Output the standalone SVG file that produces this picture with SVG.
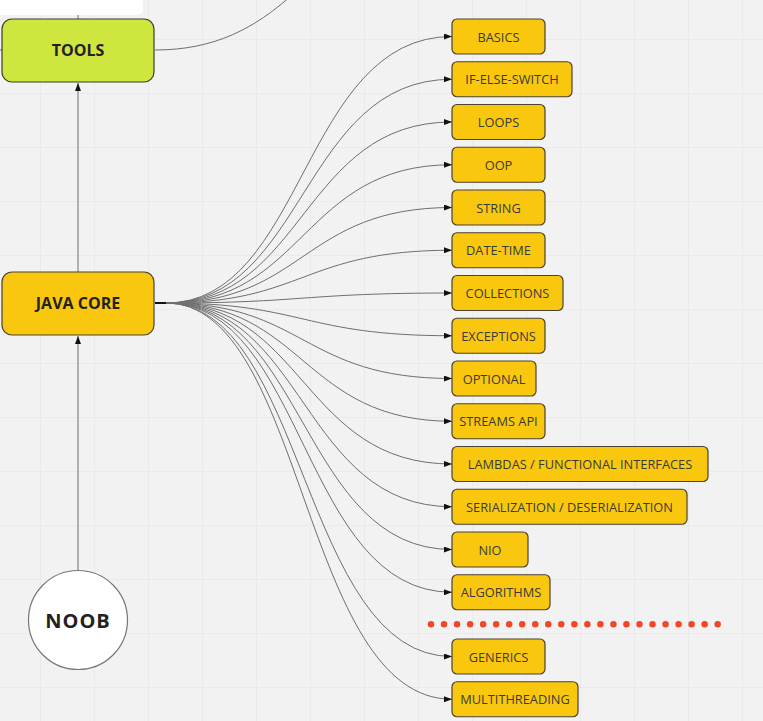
<svg xmlns="http://www.w3.org/2000/svg" width="763" height="721" viewBox="0 0 763 721">
  <defs>
    <pattern id="grid" x="40" y="39" width="54" height="54" patternUnits="userSpaceOnUse">
      <path d="M0,0 V54 M0,0 H54" fill="none" stroke="#e7e7e7" stroke-width="1.5"/>
    </pattern>
    <marker id="arrow" viewBox="0 0 8 6" refX="8" refY="3" markerWidth="8" markerHeight="6" markerUnits="userSpaceOnUse" orient="auto">
      <path d="M0,0 L8,3 L0,6 Z" fill="#111"/>
    </marker>
    <style>
      .topic rect { fill: #f9c80e; stroke: #4a4232; stroke-width: 1.2; }
      .topic text { font-family: "Open Sans", "Liberation Sans", sans-serif; font-size: 12.8px; fill: #3a3a3a; text-anchor: middle; dominant-baseline: central; }
      .main text { font-family: "Open Sans", "Liberation Sans", sans-serif; font-weight: bold; fill: #222; text-anchor: middle; dominant-baseline: central; }
      .link { fill: none; stroke: #6e6e6e; stroke-width: 1; }
      .link-arrow { fill: none; stroke: #6e6e6e; stroke-width: 1; marker-end: url(#arrow); }
    </style>
  </defs>

  <!-- canvas -->
  <rect width="763" height="721" fill="#f2f2f2"/>
  <rect width="763" height="721" fill="url(#grid)"/>

  <!-- panel in the top-left corner -->
  <rect x="-10" y="-10" width="153" height="25" rx="5" fill="#ffffff"/>

  <!-- connectors -->
  <g id="connectors">
    <path class="link" d="M78,15 V19"/>
    <path class="link" d="M0,50 H2" stroke="#333"/>
    <path class="link" d="M155,50 C215,50 255,28 292,-5"/>
    <path class="link-arrow" d="M78,272 V83"/>
    <path class="link-arrow" d="M78,571 V336"/>
    <path d="M155,303 H168" fill="none" stroke="#111" stroke-width="2"/>
    <path class="link-arrow" d="M166,303 C305,303 302,36.5 452,36.5"/>
    <path class="link-arrow" d="M166,303 C305,303 302,79.25 452,79.25"/>
    <path class="link-arrow" d="M166,303 C305,303 302,122 452,122"/>
    <path class="link-arrow" d="M166,303 C305,303 302,164.75 452,164.75"/>
    <path class="link-arrow" d="M166,303 C305,303 302,207.5 452,207.5"/>
    <path class="link-arrow" d="M166,303 C305,303 302,250.25 452,250.25"/>
    <path class="link-arrow" d="M166,303 C305,303 302,293 452,293"/>
    <path class="link-arrow" d="M166,303 C305,303 302,335.75 452,335.75"/>
    <path class="link-arrow" d="M166,303 C305,303 302,378.5 452,378.5"/>
    <path class="link-arrow" d="M166,303 C305,303 302,421.25 452,421.25"/>
    <path class="link-arrow" d="M166,303 C305,303 302,464 452,464"/>
    <path class="link-arrow" d="M166,303 C305,303 302,506.75 452,506.75"/>
    <path class="link-arrow" d="M166,303 C305,303 302,549.5 452,549.5"/>
    <path class="link-arrow" d="M166,303 C305,303 302,592.25 452,592.25"/>
    <path class="link-arrow" d="M166,303 C305,303 302,656.5 452,656.5"/>
    <path class="link-arrow" d="M166,303 C305,303 302,699.25 452,699.25"/>
  </g>

  <!-- main nodes -->
  <g id="tools" class="main">
    <rect x="2" y="19" width="152" height="63" rx="10" fill="#cfe63f" stroke="#3d3d2a" stroke-width="1.2"/>
    <text x="78" y="50" font-size="16">TOOLS</text>
  </g>
  <g id="java-core" class="main">
    <rect x="2" y="272" width="152" height="63" rx="10" fill="#f9c80e" stroke="#4a4232" stroke-width="1.2"/>
    <text x="78" y="303" font-size="16">JAVA CORE</text>
  </g>
  <g id="noob" class="main">
    <circle cx="78" cy="620" r="49.5" fill="#ffffff" stroke="#777" stroke-width="1.2"/>
    <text x="78" y="620" font-size="20" letter-spacing="1">NOOB</text>
  </g>

  <!-- topics -->
  <g id="basics" class="topic"><rect x="452" y="19" width="93" height="35" rx="5"/><text x="498.5" y="36.5">BASICS</text></g>
  <g id="if-else-switch" class="topic"><rect x="452" y="61.75" width="120" height="35" rx="5"/><text x="512" y="79.25">IF-ELSE-SWITCH</text></g>
  <g id="loops" class="topic"><rect x="452" y="104.5" width="93" height="35" rx="5"/><text x="498.5" y="122">LOOPS</text></g>
  <g id="oop" class="topic"><rect x="452" y="147.25" width="93" height="35" rx="5"/><text x="498.5" y="164.75">OOP</text></g>
  <g id="string" class="topic"><rect x="452" y="190" width="93" height="35" rx="5"/><text x="498.5" y="207.5">STRING</text></g>
  <g id="date-time" class="topic"><rect x="452" y="232.75" width="93" height="35" rx="5"/><text x="498.5" y="250.25">DATE-TIME</text></g>
  <g id="collections" class="topic"><rect x="452" y="275.5" width="111" height="35" rx="5"/><text x="507.5" y="293">COLLECTIONS</text></g>
  <g id="exceptions" class="topic"><rect x="452" y="318.25" width="93" height="35" rx="5"/><text x="498.5" y="335.75">EXCEPTIONS</text></g>
  <g id="optional" class="topic"><rect x="452" y="361" width="84" height="35" rx="5"/><text x="494" y="378.5">OPTIONAL</text></g>
  <g id="streams-api" class="topic"><rect x="452" y="403.75" width="93" height="35" rx="5"/><text x="498.5" y="421.25">STREAMS API</text></g>
  <g id="lambdas" class="topic"><rect x="452" y="446.5" width="256" height="35" rx="5"/><text x="580" y="464">LAMBDAS / FUNCTIONAL INTERFACES</text></g>
  <g id="serialization" class="topic"><rect x="452" y="489.25" width="235" height="35" rx="5"/><text x="569.5" y="506.75">SERIALIZATION / DESERIALIZATION</text></g>
  <g id="nio" class="topic"><rect x="452" y="532" width="76" height="35" rx="5"/><text x="490" y="549.5">NIO</text></g>
  <g id="algorithms" class="topic"><rect x="452" y="574.75" width="98" height="35" rx="5"/><text x="501" y="592.25">ALGORITHMS</text></g>
  <g id="generics" class="topic"><rect x="452" y="639" width="93" height="35" rx="5"/><text x="498.5" y="656.5">GENERICS</text></g>
  <g id="multithreading" class="topic"><rect x="452" y="681.75" width="126" height="35" rx="5"/><text x="515" y="699.25">MULTITHREADING</text></g>

  <!-- dotted divider -->
  <path d="M431,624.3 H718" fill="none" stroke="#f24726" stroke-width="6.5" stroke-linecap="round" stroke-dasharray="0 13.03"/>
</svg>
